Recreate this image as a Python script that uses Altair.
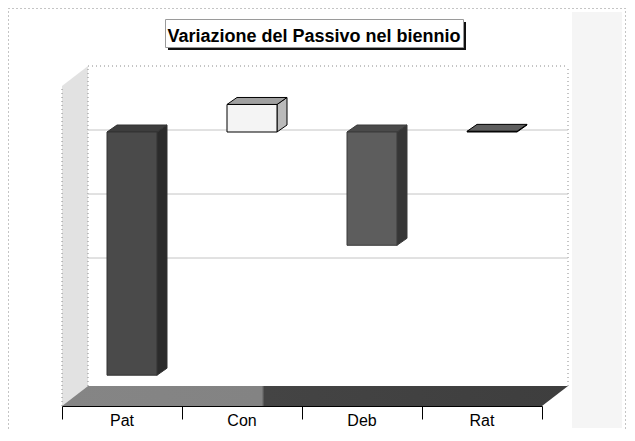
import altair as alt
import pandas as pd

# ---------------- data ----------------
categories = ["Pat", "Con", "Deb", "Rat"]
bar_start = [0, 0, 0, 0]
bar_end = [-380, 43, -177, 1]
grid_values = [0, -100, -200]
y_domain = [-400, 100]
title_text = "Variazione del Passivo nel biennio"

# ---------------- styles ----------------
front_colors = ["#4a4a4a", "#f4f4f4", "#5d5d5d", "#5a5a5a"]
top_colors = ["#3d3d3d", "#a0a0a0", "#4a4a4a", "#5e5e5e"]
side_colors = ["#2b2b2b", "#bababa", "#363636", "#3a3a3a"]
edge_colors = ["#333333", "#000000", "#3a3a3a", "#000000"]
FONT = "Liberation Sans"

W, H = 480, 320
PAD_L, PAD_T, PAD_R, PAD_B = 54, 78, 85, 23
N = len(categories)
UX = W / N
UY = H / (y_domain[1] - y_domain[0])


def ux(px):
    return px / UX


def uy(px):
    return px / UY


WALL_DX, WALL_DY = ux(26), uy(20)
FACE_DX, FACE_DY = ux(10), uy(18)
DEP_DX, DEP_DY = ux(10), uy(7)
BAR_W = ux(50)


def para(key, x0, w, dx, y_front, dy):
    return [
        dict(key=key, x=x0, y=y_front, y2=y_front),
        dict(key=key, x=x0 + dx, y=y_front + dy, y2=y_front),
        dict(key=key, x=x0 + w, y=y_front + dy, y2=y_front),
        dict(key=key, x=x0 + w + dx, y=y_front + dy, y2=y_front + dy),
    ]


def side(key, x0, dx, top_f, bot_f, dy):
    return [
        dict(key=key, x=x0, y=top_f, y2=bot_f),
        dict(key=key, x=x0 + dx, y=top_f + dy, y2=bot_f + dy),
    ]


xs = alt.Scale(domain=[0, N], nice=False, zero=False)
ys = alt.Scale(domain=y_domain, nice=False, zero=False)
x_axis = alt.Axis(values=list(range(N + 1)), labels=False, title=None, grid=False,
                  tickSize=13, tickColor="black", domainColor="black",
                  tickWidth=1, domainWidth=1, zindex=1)

# ---------------- faces ----------------
top_rows, side_rows, front_rows = [], [], []
keys, fills, strokes = [], [], []
for i, c in enumerate(categories):
    lo = min(bar_start[i], bar_end[i]) + FACE_DY
    hi = max(bar_start[i], bar_end[i]) + FACE_DY
    xl = i + 0.5 - BAR_W / 2 + FACE_DX
    xr = xl + BAR_W
    front_rows.append(dict(key=c + "-front", x=xl, x2=xr, y=lo, y2=hi))
    top_rows += para(c + "-top", xl, BAR_W, DEP_DX, hi, DEP_DY)
    side_rows += side(c + "-side", xr, DEP_DX, hi, lo, DEP_DY)
    keys += [c + "-front", c + "-top", c + "-side"]
    fills += [front_colors[i], top_colors[i], side_colors[i]]
    strokes += [edge_colors[i]] * 3

col = alt.Color("key:N", scale=alt.Scale(domain=keys, range=fills), legend=None)
stk = alt.Stroke("key:N", scale=alt.Scale(domain=keys, range=strokes), legend=None)

side_layer = alt.Chart(pd.DataFrame(side_rows)).mark_area(orient="vertical", strokeWidth=1).encode(
    x=alt.X("x:Q", scale=xs, axis=x_axis), y=alt.Y("y:Q", scale=ys, axis=None), y2="y2:Q",
    color=col, stroke=stk, detail="key:N")
top_layer = alt.Chart(pd.DataFrame(top_rows)).mark_area(orient="vertical", strokeWidth=1).encode(
    x=alt.X("x:Q", scale=xs, axis=x_axis), y=alt.Y("y:Q", scale=ys, axis=None), y2="y2:Q",
    color=col, stroke=stk, detail="key:N")
front_layer = alt.Chart(pd.DataFrame(front_rows)).mark_rect(strokeWidth=1).encode(
    x=alt.X("x:Q", scale=xs, axis=x_axis), x2="x2:Q",
    y=alt.Y("y:Q", scale=ys, axis=None), y2="y2:Q",
    color=col, stroke=stk)

# ---------------- walls & floor ----------------
wall_df = pd.DataFrame(side("wall", 0, WALL_DX, y_domain[1], y_domain[0], WALL_DY))
wall_layer = alt.Chart(wall_df).mark_area(orient="vertical", color="#e2e2e2").encode(
    x=alt.X("x:Q", scale=xs, axis=x_axis), y=alt.Y("y:Q", scale=ys, axis=None), y2="y2:Q")

floor_df = pd.DataFrame(para("floor", 0, N, WALL_DX, y_domain[0], WALL_DY))
floor_grad = alt.Gradient(gradient="linear", x1=0, x2=1, y1=0, y2=0, stops=[
    alt.GradientStop(color="#858585", offset=0),
    alt.GradientStop(color="#838383", offset=0.395),
    alt.GradientStop(color="#444444", offset=0.40),
    alt.GradientStop(color="#3e3e3e", offset=1)])
floor_layer = alt.Chart(floor_df).mark_area(orient="vertical", color=floor_grad).encode(
    x=alt.X("x:Q", scale=xs, axis=x_axis), y=alt.Y("y:Q", scale=ys, axis=None), y2="y2:Q")

grid_df = pd.DataFrame({"v": [g + WALL_DY for g in grid_values],
                        "x": [WALL_DX] * len(grid_values),
                        "x2": [N + WALL_DX] * len(grid_values)})
grid_layer = alt.Chart(grid_df).mark_rule(color="#c4c4c4", strokeWidth=1).encode(
    x=alt.X("x:Q", scale=xs, axis=x_axis), x2="x2:Q", y=alt.Y("v:Q", scale=ys, axis=None))

edge_df = pd.DataFrame([
    dict(x=WALL_DX, x2=N + WALL_DX, y=y_domain[1] + WALL_DY, y2=y_domain[1] + WALL_DY),
    dict(x=N + WALL_DX, x2=N + WALL_DX, y=y_domain[0] + WALL_DY, y2=y_domain[1] + WALL_DY),
    dict(x=WALL_DX, x2=WALL_DX, y=y_domain[0] + WALL_DY, y2=y_domain[1] + WALL_DY),
    dict(x=0, x2=0, y=y_domain[0], y2=y_domain[1]),
])
edge_layer = alt.Chart(edge_df).mark_rule(color="#8a8a8a", strokeWidth=1, strokeDash=[1, 3]).encode(
    x=alt.X("x:Q", scale=xs, axis=x_axis), x2="x2:Q",
    y=alt.Y("y:Q", scale=ys, axis=None), y2="y2:Q")

# ---------------- labels ----------------
lab_df = pd.DataFrame({"cat": categories, "x": [i + 0.5 for i in range(N)]})
label_layer = alt.Chart(lab_df).mark_text(font=FONT, fontSize=16, color="black",
                                          baseline="alphabetic", align="center").encode(
    x=alt.X("x:Q", scale=xs, axis=x_axis), y=alt.value(H + 20), text="cat:N")

one = pd.DataFrame({"k": [0]})
bg_strip = alt.Chart(one).mark_rect(color="#f5f5f5").encode(
    x=alt.value(510), x2=alt.value(560), y=alt.value(-74), y2=alt.value(H + 22))
border = alt.Chart(one).mark_rect(fill=None, stroke="#8a8a8a", strokeWidth=1, strokeDash=[1, 3]).encode(
    x=alt.value(-53.5), x2=alt.value(563.5), y=alt.value(-77.5), y2=alt.value(H + 23.5))
shadow = alt.Chart(one).mark_rect(color="#111111").encode(
    x=alt.value(106), x2=alt.value(404), y=alt.value(-64), y2=alt.value(-36))
box = alt.Chart(one).mark_rect(color="white", stroke="#9a9a9a", strokeWidth=1).encode(
    x=alt.value(103.5), x2=alt.value(401.5), y=alt.value(-66.5), y2=alt.value(-38.5))
title_layer = alt.Chart(pd.DataFrame({"t": [title_text]})).mark_text(
    font=FONT, fontSize=18, fontWeight="bold", color="black", align="center",
    baseline="alphabetic").encode(x=alt.value(252), y=alt.value(-44), text="t:N")

chart = alt.layer(
    bg_strip, border, wall_layer, floor_layer, edge_layer, grid_layer,
    side_layer, top_layer, front_layer, label_layer, shadow, box, title_layer
).properties(
    width=W, height=H,
    autosize=alt.AutoSizeParams(type="none"),
    padding={"left": PAD_L, "top": PAD_T, "right": PAD_R, "bottom": PAD_B},
    background="white",
).configure_view(stroke=None)

chart.save("out.html", embed_options={"renderer": "svg", "actions": False})
